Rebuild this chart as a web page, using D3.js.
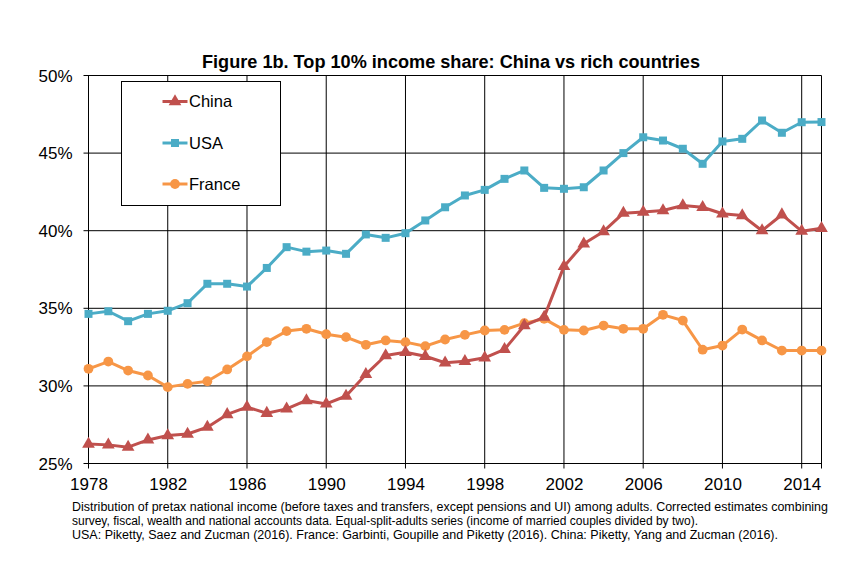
<!DOCTYPE html>
<html><head><meta charset="utf-8">
<script src="https://cdn.jsdelivr.net/npm/d3@7"></script>
<style>body{margin:0;background:#fff}svg{display:block}</style>
</head><body>
<svg id="c" width="849" height="576"></svg>
<script>
const years = d3.range(1978, 2016);
const china = [26.25,26.2,26.05,26.52,26.8,26.9,27.34,28.16,28.63,28.24,28.52,29.06,28.84,29.35,30.74,31.96,32.17,31.91,31.49,31.59,31.81,32.35,33.89,34.43,37.7,39.16,39.95,41.13,41.2,41.3,41.62,41.51,41.09,40.98,40.0,41.03,39.97,40.16];
const usa = [34.64,34.81,34.17,34.64,34.84,35.33,36.58,36.58,36.4,37.6,38.94,38.65,38.72,38.51,39.76,39.54,39.84,40.66,41.51,42.27,42.63,43.34,43.88,42.76,42.7,42.8,43.88,45.0,46.02,45.81,45.28,44.31,45.75,45.92,47.1,46.31,46.99,47.0];
const france = [31.1,31.57,30.99,30.67,29.92,30.13,30.3,31.06,31.9,32.82,33.53,33.68,33.33,33.14,32.65,32.93,32.82,32.56,32.99,33.29,33.57,33.61,34.04,34.32,33.61,33.57,33.89,33.68,33.68,34.58,34.21,32.33,32.6,33.63,32.93,32.28,32.28,32.28];
const yTicks = [25,30,35,40,45,50];
const xTicks = [1978,1982,1986,1990,1994,1998,2002,2006,2010,2014];
const seriesNames = ["China","USA","France"];
const title = "Figure 1b. Top 10% income share: China vs rich countries";
const notes = [
 "Distribution of pretax national income (before taxes and transfers, except pensions and UI) among adults. Corrected estimates combining",
 "survey, fiscal, wealth and national accounts data. Equal-split-adults series (income of married couples divided by two).",
 "USA: Piketty, Saez and Zucman (2016). France: Garbinti, Goupille and Piketty (2016). China: Piketty, Yang and Zucman (2016)."
];

const colors = {China:"#C0504D", USA:"#4BACC6", France:"#F79646"};
const dataMap = {China:china, USA:usa, France:france};

const svg = d3.select("#c");
const L = 88.5, R = 821.5, T = 75.5, B = 463.5;
const x = d3.scaleLinear().domain([1978, 2015]).range([L, R]);
const y = d3.scaleLinear().domain([25, 50]).range([B, T]);
const font = "'Liberation Sans', Arial, sans-serif";

// grid
const g = svg.append("g");
g.selectAll(".hg").data(yTicks).enter().append("line")
  .attr("x1", L-5).attr("x2", R).attr("y1", d=>y(d)).attr("y2", d=>y(d))
  .attr("stroke", "#000").attr("stroke-width", 1);
g.selectAll(".vg").data(xTicks).enter().append("line")
  .attr("x1", d=>x(d)).attr("x2", d=>x(d)).attr("y1", T).attr("y2", B+5)
  .attr("stroke", "#000").attr("stroke-width", 1);
g.append("line").attr("x1", R).attr("x2", R).attr("y1", T).attr("y2", B+5).attr("stroke","#000");

// axes labels
svg.selectAll(".yl").data(yTicks).enter().append("text")
  .attr("x", 72.5).attr("y", d=>y(d)).attr("dy", "0.36em").attr("text-anchor","end")
  .attr("font-family", font).attr("font-size", 17).text(d=>d+"%");
svg.selectAll(".xl").data(xTicks).enter().append("text")
  .attr("x", d=>x(d)+0.5).attr("y", 490).attr("text-anchor","middle")
  .attr("font-family", font).attr("font-size", 17).text(d=>d);

// title
svg.append("text").attr("x", 451).attr("y", 67.5).attr("text-anchor","middle")
  .attr("font-family", font).attr("font-size", 18).attr("font-weight","bold")
  .attr("textLength", 498).attr("lengthAdjust","spacingAndGlyphs").text(title);

// series
const line = d3.line().x((d,i)=>x(years[i])).y(d=>y(d));
const tri = d3.symbol().type(d3.symbolTriangle).size(70);
const sq = d3.symbol().type(d3.symbolSquare).size(64);
const circ = d3.symbol().type(d3.symbolCircle).size(75);
const symbols = {China:tri, USA:sq, France:circ};

["France","China","USA"].forEach(name=>{
  const vals = dataMap[name];
  svg.append("path").attr("d", line(vals)).attr("fill","none")
    .attr("stroke", colors[name]).attr("stroke-width", 3).attr("stroke-linejoin","round");
  svg.append("g").selectAll("path").data(vals).enter().append("path")
    .attr("transform",(d,i)=>`translate(${x(years[i])},${y(d)})`)
    .attr("d", symbols[name]()).attr("fill", colors[name]);
});

// legend
const lg = svg.append("g");
lg.append("rect").attr("x",121.5).attr("y",81.5).attr("width",159).attr("height",124)
  .attr("fill","#fff").attr("stroke","#000");
const legY = [101.5, 143, 184];
seriesNames.forEach((name,i)=>{
  lg.append("line").attr("x1",162.5).attr("x2",187.5).attr("y1",legY[i]).attr("y2",legY[i])
    .attr("stroke",colors[name]).attr("stroke-width",3);
  lg.append("path").attr("transform",`translate(175,${legY[i]})`).attr("d",symbols[name]()).attr("fill",colors[name]);
  lg.append("text").attr("x",189).attr("y",legY[i]).attr("dy","0.35em")
    .attr("font-family",font).attr("font-size",16.5).text(name);
});

// notes
const nw = [756, 626, 706];
notes.forEach((t,i)=>{
  svg.append("text").attr("x",72).attr("y",511+i*14.2)
    .attr("font-family","'Liberation Sans Narrow','Arial Narrow',"+font).attr("font-size",12.5)
    .attr("textLength", nw[i]).attr("lengthAdjust","spacingAndGlyphs").text(t);
});
</script>
</body></html>
